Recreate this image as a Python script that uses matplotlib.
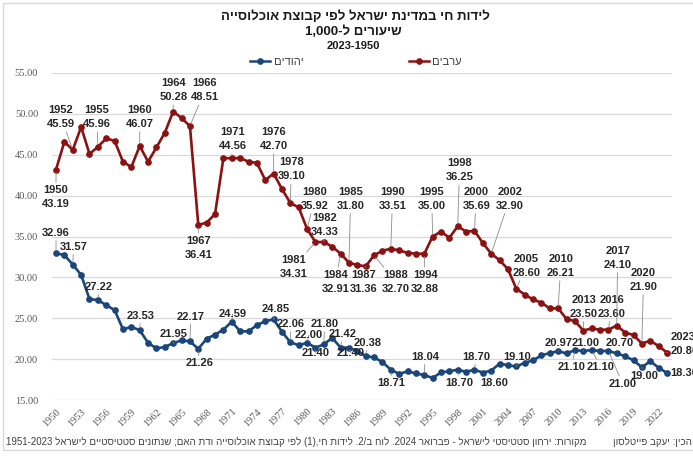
import re
import matplotlib
matplotlib.use('Agg')
import matplotlib.pyplot as plt
from matplotlib.lines import Line2D
from matplotlib.patches import Rectangle

# ---------------- data ----------------
years = list(range(1950, 2024))
arabs = [43.19, 46.60, 45.59, 48.40, 45.10, 45.96, 47.00, 46.70, 44.15, 43.50,
         46.07, 44.15, 45.90, 47.70, 50.28, 49.50, 48.51, 36.41, 36.70, 37.75,
         44.60, 44.56, 44.60, 44.15, 44.00, 41.90, 42.70, 40.80, 39.10, 38.55,
         35.92, 34.31, 34.33, 33.75, 32.91, 31.80, 31.50, 31.36, 32.70, 33.25,
         33.51, 33.30, 33.00, 32.90, 32.88, 35.00, 35.60, 34.85, 36.25, 35.60,
         35.69, 34.20, 32.90, 32.10, 31.00, 28.60, 27.90, 27.30, 26.90, 26.20,
         26.21, 24.90, 24.65, 23.50, 23.75, 23.60, 23.60, 24.10, 23.25, 22.95,
         21.90, 22.25, 21.60, 20.80]
jews = [32.96, 32.72, 31.57, 30.30, 27.35, 27.22, 26.60, 26.00, 23.65, 23.95,
        23.53, 22.00, 21.30, 21.50, 21.95, 22.30, 22.17, 21.26, 22.50, 23.00,
        23.60, 24.59, 23.40, 23.40, 24.15, 24.65, 24.85, 23.35, 22.06, 21.70,
        22.00, 21.40, 21.80, 22.60, 21.42, 21.40, 21.00, 20.38, 20.20, 19.65,
        18.71, 18.20, 18.50, 18.25, 18.04, 17.70, 18.37, 18.53, 18.70, 18.45,
        18.70, 18.35, 18.60, 19.45, 19.25, 19.10, 19.55, 19.85, 20.45, 20.75,
        20.97, 20.70, 21.10, 21.00, 21.10, 21.00, 21.00, 20.70, 20.35, 19.85,
        19.00, 19.75, 18.95, 18.30]
arab_label_years = [1950, 1952, 1955, 1960, 1964, 1966, 1967, 1971, 1976, 1978,
                    1980, 1981, 1982, 1984, 1985, 1987, 1988, 1990, 1994, 1995,
                    1998, 2000, 2002, 2005, 2010, 2013, 2016, 2017, 2020, 2023]
jew_label_years = [1950, 1952, 1955, 1960, 1964, 1966, 1967, 1971, 1976, 1978,
                   1980, 1981, 1982, 1984, 1985, 1987, 1990, 1994, 1998, 2000,
                   2002, 2005, 2010, 2012, 2013, 2014, 2016, 2017, 2020, 2023]
xtick_years = list(range(1950, 2023, 3))
yticks = [15, 20, 25, 30, 35, 40, 45, 50, 55]

TITLE1 = "לידות חי במדינת ישראל לפי קבוצת אוכלוסייה"
TITLE2 = "שיעורים ל-1,000"
TITLE3 = "2023-1950"
NAME_JEWS = "יהודים"
NAME_ARABS = "ערבים"
CREDIT = "הכין: יעקב פייטלסון"
SOURCE = ("מקורות: ירחון סטטיסטי לישראל - פברואר 2024. לוח ב/2. לידות חי,(1) "
          "לפי קבוצת אוכלוסייה ודת האם; שנתונים סטטיסטיים לישראל 1951-2023")

# ---------------- layout (label text positions, data coords) ----------------
ARAB_POS = {1950: (1950.0, 39.8), 1952: (1950.6, 49.6), 1955: (1954.9, 49.6),
            1960: (1960.0, 49.6), 1964: (1964.0, 52.9), 1966: (1967.8, 52.9),
            1967: (1967.0, 33.6), 1971: (1971.1, 46.9), 1976: (1976.0, 46.9),
            1978: (1978.1, 43.2), 1980: (1980.9, 39.6), 1981: (1978.4, 31.3),
            1982: (1982.1, 36.4), 1984: (1983.4, 29.45), 1985: (1985.2, 39.6),
            1987: (1986.8, 29.45), 1988: (1990.6, 29.45), 1990: (1990.2, 39.6),
            1994: (1994.1, 29.45), 1995: (1994.9, 39.6), 1998: (1998.2, 43.1),
            2000: (2000.2, 39.6), 2002: (2004.2, 39.6), 2005: (2006.2, 31.4),
            2010: (2010.3, 31.4), 2013: (2013.1, 26.4), 2016: (2016.4, 26.4),
            2017: (2017.1, 32.4), 2020: (2020.2, 29.7), 2023: (2023.4, 21.9)}
JEW_POS = {1950: (1950.0, 35.45), 1952: (1952.1, 33.75), 1955: (1955.1, 28.85),
           1960: (1960.1, 25.3), 1964: (1964.1, 23.05), 1966: (1966.1, 25.2),
           1967: (1967.1, 19.47), 1971: (1971.1, 25.5), 1976: (1976.2, 26.1),
           1978: (1978.0, 24.3), 1980: (1980.2, 22.9), 1981: (1981.0, 20.8),
           1982: (1982.1, 24.3), 1984: (1984.3, 23.05), 1985: (1985.2, 20.8),
           1987: (1987.2, 22.0), 1990: (1990.1, 17.05), 1994: (1994.1, 20.3),
           1998: (1998.2, 17.1), 2000: (2000.2, 20.3), 2002: (2002.3, 17.1),
           2005: (2005.1, 20.3), 2010: (2010.0, 22.0), 2012: (2011.6, 19.06),
           2013: (2013.3, 22.0), 2014: (2015.1, 19.06), 2016: (2017.7, 17.0),
           2017: (2017.3, 22.0), 2020: (2020.3, 17.9), 2023: (2023.35, 18.3)}

MIRROR = {'(': ')', ')': '('}


def visual(s):
    """Simple bidi: RTL base direction, keep number runs left-to-right."""
    tokens = re.findall(r'[0-9](?:[0-9.,/\-]*[0-9])?|.', s)
    return ''.join(MIRROR.get(t, t) for t in reversed(tokens))


HEB = ['Liberation Sans', 'DejaVu Sans']
RED = '#8a1212'
BLUE = '#1b4679'
LABEL_C = '#262626'

W, H = 693, 458
fig = plt.figure(figsize=(W / 100, H / 100), dpi=100)
ax = fig.add_axes([52 / W, 58 / H, 620 / W, 327 / H])

ax.plot(years, arabs, color=RED, lw=1.9, marker='o', ms=3.8, zorder=3)
ax.plot(years, jews, color=BLUE, lw=1.9, marker='o', ms=3.8, zorder=3)

ax.set_xlim(1949.52, 2023.6)
ax.set_ylim(15, 55)
ax.set_yticks(yticks)
ax.set_yticklabels([f"{v:.2f}" for v in yticks], family='Liberation Serif',
                   fontsize=7.5, color='#595959')
ax.set_xticks(xtick_years)
ax.set_xticklabels([str(y) for y in xtick_years], family='Liberation Serif',
                   fontsize=7.5, color='#595959', rotation=45, ha='right',
                   va='top', rotation_mode='anchor')
ax.tick_params(axis='both', length=0)
ax.tick_params(axis='y', pad=10)
ax.tick_params(axis='x', pad=5)
for sp in ax.spines.values():
    sp.set_visible(False)
ax.yaxis.grid(True, color='#d9d9d9', lw=0.9)
ax.set_axisbelow(True)

arrow = dict(arrowstyle='-', color='#8c8c8c', lw=0.6, shrinkA=0, shrinkB=2)
LBL = dict(fontsize=8, fontweight='bold', color=LABEL_C,
           family=['Liberation Sans', 'DejaVu Sans'], va='center',
           arrowprops=arrow, annotation_clip=False, zorder=4)
for y in arab_label_years:
    v = arabs[years.index(y)]
    tx, ty = ARAB_POS[y]
    ax.annotate(f"{y}\n{v:.2f}", xy=(y, v), xytext=(tx, ty),
                ha='left' if y == 2023 else 'center', linespacing=1.5, **LBL)
for y in jew_label_years:
    v = jews[years.index(y)]
    tx, ty = JEW_POS[y]
    ax.annotate(f"{v:.2f}", xy=(y, v), xytext=(tx, ty),
                ha='left' if y == 2023 else 'center', **LBL)

# titles
fig.text(355 / W, 1 - 17 / H, visual(TITLE1), ha='center', va='center',
         fontsize=9.5, fontweight='bold', family=HEB, color='#1a1a1a')
fig.text(353 / W, 1 - 32 / H, visual(TITLE2), ha='center', va='center',
         fontsize=9.5, fontweight='bold', family=HEB, color='#1a1a1a')
fig.text(353 / W, 1 - 46 / H, visual(TITLE3), ha='center', va='center',
         fontsize=8, fontweight='bold', family=HEB, color='#1a1a1a')

# legend
handles = [Line2D([], [], color=BLUE, lw=1.8, marker='o', ms=3.8),
           Line2D([], [], color=RED, lw=1.8, marker='o', ms=3.8)]
leg = fig.legend(handles, [visual(NAME_JEWS), visual(NAME_ARABS)], ncol=2,
                 loc='center', bbox_to_anchor=(356 / W, 1 - 62 / H),
                 frameon=False, handlelength=1.8, handletextpad=0.3,
                 columnspacing=9.5, prop={'family': HEB, 'size': 8})
for t in leg.get_texts():
    t.set_color('#404040')

# footer
fig.text(6 / W, 1 - 442 / H, visual(SOURCE), ha='left', va='center',
         fontsize=7, family=HEB, color='#404040')
fig.text(692 / W, 1 - 442 / H, visual(CREDIT), ha='right', va='center',
         fontsize=7, family=HEB, color='#404040')

# chart border
fig.patches.append(Rectangle((3 / W, 1 - 450 / H), 720 / W, 447 / H,
                             transform=fig.transFigure, fill=False,
                             ec='#d9d9d9', lw=1.0))

fig.savefig('out.png', dpi=100)
